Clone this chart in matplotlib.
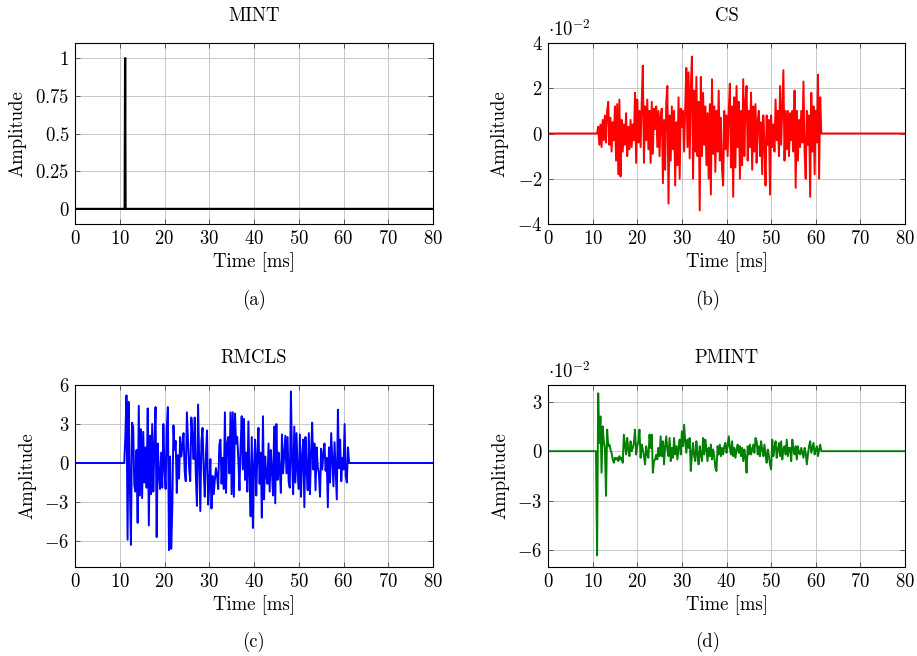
import numpy as np
import matplotlib
matplotlib.use("Agg")
import matplotlib.pyplot as plt

plt.rcParams['font.family'] = 'serif'
plt.rcParams['font.serif'] = ['cmr10']
plt.rcParams['mathtext.fontset'] = 'cm'
plt.rcParams['axes.formatter.use_mathtext'] = True
FS = 13.5
plt.rcParams['font.size'] = FS

# sample spacing of the hand-read traces [ms]
dt = 0.25

# MINT: single impulse
mint_t = [0, 11.1, 11.2, 11.3, 80]
mint_y = [0, 0, 1, 0, 0]

# CS (x 1e-2), starts at 11.25 ms
cs_t0 = 11.25
cs_vals = [
    0.3, -0.5, 0.4, -0.6, 0.6, -0.3, 0.8, -0.4,
    1.0, 1.4, -0.5, 0.7, -0.8, 0.5, -0.3, 1.2,
    -1.2, 1.3, -1.8, 1.5, -1.9, 0.6, -0.8, 0.4,
    -0.5, 0.9, -1.0, 0.3, -0.7, 0.6, -0.6, 0.4,
    -0.3, 1.8, -1.3, 1.5, -0.4, 1.0, -0.6, 1.4,
    3.0, -1.3, 1.2, -0.3, 1.5, -0.7, 1.0, -1.3,
    1.4, -0.9, 1.1, 0.2, 1.2, -0.6, 1.0, -1.0,
    0.8, 1.1, -2.2, 0.6, -1.6, 1.4, 2.1, -3.1,
    0.8, -1.2, 1.2, -0.7, 1.0, -2.3, 0.5, -1.4,
    1.6, -2.0, 1.1, 0.3, 1.0, -0.8, 1.2, 2.9,
    -0.6, 2.7, -1.1, 2.0, 3.4, -2.0, 1.9, -0.8,
    2.5, -1.0, 1.4, -3.4, 2.5, -1.0, 1.8, -0.5,
    1.2, -1.4, 0.9, -2.0, 1.3, -2.7, 2.4, -0.9,
    1.2, -1.7, 1.0, -0.8, 1.9, -1.2, 0.7, -1.6,
    -2.3, 1.0, -0.7, 0.8, -1.0, 1.0, 2.2, -1.5,
    1.2, -2.8, 1.6, -1.5, 2.1, -0.6, 1.4, -2.0,
    1.0, -1.4, 2.4, -1.0, 1.4, 2.1, -1.2, 1.0,
    -0.6, 1.8, -1.6, 1.2, -0.8, 1.3, -1.3, 0.6,
    1.0, -1.0, 0.5, -1.8, 0.8, -0.4, -2.3, 0.8,
    -0.5, 0.6, -2.7, 0.8, -0.6, 0.4, -0.8, 1.5,
    -0.3, 1.0, -1.0, 2.1, -0.5, 1.2, 2.8, -1.2,
    1.0, -0.7, 1.0, -1.0, 0.9, -0.3, 1.0, -0.8,
    1.9, -2.4, 1.0, -1.2, 0.6, -0.6, 1.0, -0.4,
    2.3, -0.8, -2.0, 1.0, -0.5, 0.8, -2.8, 1.8,
    -0.8, 1.2, -1.8, 1.0, -0.4, 2.6, -2.0, 1.6,
    0.0,
]

# RMCLS, starts at 11.25 ms
rm_t0 = 11.25
rm_vals = [
    2.0, 5.2, -5.9, 4.7, -1.5, -6.3, 3.1, 2.8,
    -1.7, -2.2, 1.0, -4.6, 4.4, -2.5, 2.6, -2.7,
    2.4, -1.5, 1.2, -1.9, 4.2, -4.8, 2.1, -2.4,
    3.0, -2.2, 1.4, 4.3, -5.7, 1.5, -0.8, -2.0,
    0.8, -1.9, 3.0, -0.5, -2.0, 2.6, 4.3, -6.7,
    0.5, -6.6, -3.3, 2.9, 1.0, 1.7, -2.3, 0.6,
    -1.2, 2.0, 0.5, 1.3, 2.3, -0.6, -1.4, 3.9,
    1.8, -0.4, -1.4, 3.5, 2.1, 0.3, 3.5, -1.0,
    -3.3, 4.5, 0.5, -3.7, 1.7, 2.7, -0.5, -2.6,
    0.6, 2.5, -3.2, -1.8, 0.3, -3.5, -1.0, -2.4,
    -1.3, -0.4, -1.0, -2.0, 1.4, 1.8, -1.6, 0.4,
    -2.0, 3.9, -2.3, 1.5, 2.0, -0.8, 3.9, -2.4,
    3.9, -2.6, 3.8, 1.5, 2.0, 0.3, -2.1, 1.2,
    3.6, -0.5, 3.4, -1.3, 0.8, -2.2, 3.2, -1.0,
    -4.1, 2.0, -5.0, -0.3, 1.8, -2.5, 0.6, 2.7,
    -1.6, 0.8, -4.2, 3.6, -2.8, 0.5, -1.0, -1.6,
    1.5, -2.2, 1.0, -0.6, -2.5, 2.8, -3.1, 3.0,
    -1.3, 0.8, -0.4, -2.3, 2.2, -0.8, 0.6, 2.1,
    -0.8, 2.0, -1.5, -1.9, 5.5, 0.2, -2.4, 2.8,
    -1.5, 2.3, -0.6, -2.0, 2.2, -2.6, 0.5, 1.8,
    -3.4, 2.0, -0.4, -2.1, 2.3, -2.4, 0.7, 3.1,
    -0.5, 1.5, -2.1, 1.2, -0.3, -0.8, -2.6, 1.1,
    -0.5, 0.7, 1.5, -0.6, 0.4, -3.4, 1.2, -1.5,
    2.3, 0.2, -1.8, 1.6, -0.6, -2.8, 4.1, -0.4,
    1.8, -1.4, 0.4, -0.5, 3.0, -1.0, -1.5, 1.2,
    0.0,
]

# PMINT (x 1e-2), starts at 11.0 ms
pm_t0 = 11.0
pm_vals = [
    -6.3, 3.5, 0.5, 2.1, -1.3, 1.5, 0.6, 0.2,
    -2.7, 1.3, 0.3, 0.4, 0.1, -0.1, -0.5, -0.7,
    -0.4, -0.5, -0.4, -0.6, -0.3, -0.5, -0.4, -0.7,
    1.0, 0.4, -0.2, 0.8, 0.1, -0.3, 0.6, 0.0,
    0.2, 0.5, 1.3, -0.2, 0.3, 0.6, 1.3, -0.4,
    0.4, 0.1, -0.3, -0.8, 0.3, -0.2, -0.4, 1.0,
    0.2, 1.0, -1.3, -0.6, -0.5, -0.2, -0.5, 0.2,
    -0.3, 0.9, -0.3, 0.6, -0.8, 0.3, 0.9, 0.1,
    -0.3, 0.8, -0.6, 0.2, -0.4, 0.8, -0.2, 0.3,
    -0.5, 0.2, 0.7, -0.2, 1.2, 0.3, 1.6, 0.6,
    -0.1, 0.7, 0.2, 0.8, -1.2, -0.2, 0.5, -0.3,
    -0.6, 0.6, -0.2, -0.8, 0.3, -0.2, -0.6, 0.8,
    -0.2, 0.7, 0.1, -0.6, 0.2, -0.3, 0.4, -0.5,
    0.1, -0.3, -1.0, -1.2, 0.3, -0.2, 0.4, -0.3,
    0.2, -0.2, 0.3, 0.5, -0.1, 0.3, 0.9, 0.2,
    -0.2, 0.6, -0.3, 0.2, -0.4, 0.1, 0.4, -0.1,
    0.3, -0.3, 0.2, -0.6, 0.1, -0.4, -1.3, 0.3,
    -0.2, 0.4, -0.2, 0.1, 0.4, -0.1, 0.8, 0.6,
    -0.2, 0.3, -0.3, 0.6, 0.1, -0.3, 0.4, -0.2,
    -0.7, 0.1, -0.3, -0.8, -1.1, 0.7, -0.3, 0.2,
    0.6, -0.4, 0.1, 0.5, -0.3, 0.6, -0.5, 0.1,
    0.3, -0.2, 0.7, -0.3, 0.2, 0.2, -0.6, 0.7,
    0.1, -0.2, 0.3, -0.5, 0.3, -0.1, -0.2, 0.2,
    -0.1, -0.4, 0.2, -0.1, -0.8, -0.2, 0.3, 0.6,
    -0.1, 0.2, 0.5, -0.2, 0.1, 0.3, -0.3, 0.1,
    0.4, 0.0,
]


def padded(t0, vals):
    t = t0 + dt * np.arange(len(vals))
    t = np.concatenate([[0, t0 - dt], t, [80]])
    y = np.concatenate([[0, 0], vals, [0]])
    return t, y


fig = plt.figure(figsize=(9.17, 6.56), dpi=100)
W, H = 917, 656


def make_ax(left, top, right, bottom):
    return fig.add_axes([left / W, 1 - bottom / H, (right - left) / W, (bottom - top) / H])


def style(ax, title, ylim, yticks, yticklabels=None):
    ax.set_xlim(0, 80)
    ax.set_ylim(*ylim)
    ax.set_xticks(np.arange(0, 81, 10))
    ax.set_yticks(yticks)
    if yticklabels is not None:
        ax.set_yticklabels(yticklabels)
    ax.grid(True, color='#c8c8c8', lw=0.7)
    ax.set_axisbelow(True)
    ax.tick_params(direction='in', top=True, right=True, length=3.5,
                   width=0.7, color='#555555', labelsize=FS, pad=4)
    for s in ax.spines.values():
        s.set_linewidth(0.8)
    ax.set_title(title, fontsize=FS, pad=16)
    ax.set_xlabel('Time [ms]', fontsize=FS, labelpad=3)
    ax.set_ylabel('Amplitude', fontsize=FS, labelpad=6)


# (a) MINT
ax = make_ax(75, 43, 433, 224)
ax.plot(mint_t, mint_y, color='black', lw=1.6)
style(ax, 'MINT', (-0.1, 1.1), [0, 0.25, 0.5, 0.75, 1],
      ['$0$', '$0.25$', '$0.5$', '$0.75$', '$1$'])
fig.text(254 / W, 1 - 300 / H, '(a)', ha='center', va='center', fontsize=FS)

# (b) CS
ax = make_ax(548, 43, 905, 224)
t, y = padded(cs_t0, cs_vals)
ax.plot(t, y, color='#ff0000', lw=1.4)
style(ax, 'CS', (-4, 4), [-4, -2, 0, 2, 4])
ax.text(0, 1.015, r'$\cdot 10^{-2}$', transform=ax.transAxes, ha='left', va='bottom', fontsize=FS)
fig.text(708 / W, 1 - 300 / H, '(b)', ha='center', va='center', fontsize=FS)

# (c) RMCLS
ax = make_ax(75, 385, 433, 567)
t, y = padded(rm_t0, rm_vals)
ax.plot(t, y, color='#0000ff', lw=1.4)
style(ax, 'RMCLS', (-8, 6), [-6, -3, 0, 3, 6])
fig.text(254 / W, 1 - 642 / H, '(c)', ha='center', va='center', fontsize=FS)

# (d) PMINT
ax = make_ax(548, 385, 905, 567)
t, y = padded(pm_t0, pm_vals)
ax.plot(t, y, color='#008000', lw=1.4)
style(ax, 'PMINT', (-7, 4), [-6, -3, 0, 3])
ax.text(0, 1.015, r'$\cdot 10^{-2}$', transform=ax.transAxes, ha='left', va='bottom', fontsize=FS)
fig.text(708 / W, 1 - 642 / H, '(d)', ha='center', va='center', fontsize=FS)

fig.savefig('out.png', dpi=100)
